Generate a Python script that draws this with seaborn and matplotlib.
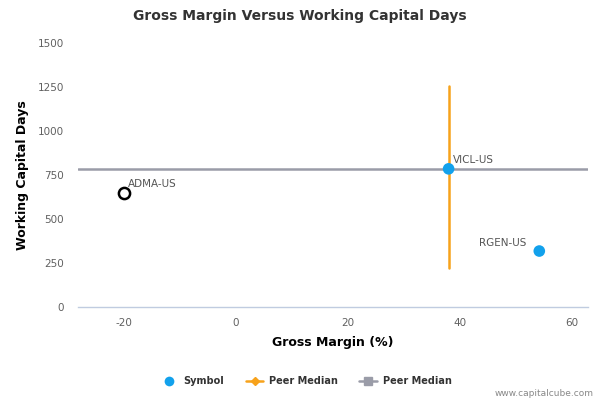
import matplotlib
matplotlib.use("Agg")
import matplotlib.pyplot as plt
from matplotlib.lines import Line2D
import seaborn as sns
import pandas as pd

# data
symbols = ["ADMA-US", "VICL-US", "RGEN-US"]
gross_margin = [-20.0, 38.0, 54.2]
wc_days = [645, 785, 318]
hollow = [True, False, False]

peer_median_x = 38.0
peer_median_y = 785
peer_x_range = [220, 1255]

x_ticks = [-20, 0, 20, 40, 60]
y_ticks = [0, 250, 500, 750, 1000, 1250, 1500]

BLUE = "#12a1ec"
ORANGE = "#f7a21b"
GREY = "#9a9ca8"

df = pd.DataFrame({"symbol": symbols, "gm": gross_margin, "wcd": wc_days, "hollow": hollow})

sns.set_theme(style="white")
plt.rcParams["font.family"] = ["DejaVu Sans"]
plt.rcParams["axes.unicode_minus"] = False

fig = plt.figure(figsize=(6, 4), dpi=100)
ax = fig.add_axes([0.13, 0.2325, 0.85, 0.66])

ax.set_xlim(-28.2, 62.9)
ax.set_ylim(0, 1500)

# peer median lines
ax.axhline(peer_median_y, color=GREY, lw=1.8, zorder=1)
ax.plot([peer_median_x, peer_median_x], peer_x_range, color=ORANGE, lw=1.8, zorder=2)

filled = df[~df["hollow"]]
empty = df[df["hollow"]]
sns.scatterplot(data=filled, x="gm", y="wcd", color=BLUE, s=70, edgecolor="none",
                ax=ax, zorder=3, legend=False)
sns.scatterplot(data=empty, x="gm", y="wcd", facecolor="white", edgecolor="black",
                linewidth=1.8, s=65, ax=ax, zorder=3, legend=False)

for _, r in df.iterrows():
    if r["symbol"] == "RGEN-US":
        ax.annotate(r["symbol"], (r["gm"], r["wcd"]), xytext=(-9, 2), textcoords="offset points",
                    ha="right", va="bottom", fontsize=7.5, color="#555555")
    else:
        ax.annotate(r["symbol"], (r["gm"], r["wcd"]), xytext=(3, 3), textcoords="offset points",
                    ha="left", va="bottom", fontsize=7.5, color="#555555")

ax.set_xticks(x_ticks)
ax.set_yticks(y_ticks)
ax.tick_params(axis="both", labelsize=7.5, colors="#606060")
ax.tick_params(axis="x", length=5, width=1, color="#c0cce0", pad=3)
ax.tick_params(axis="y", length=0, pad=10)

for side in ["top", "right", "left"]:
    ax.spines[side].set_visible(False)
ax.spines["bottom"].set_color("#c0cce0")
ax.spines["bottom"].set_linewidth(1)

ax.set_xlabel("Gross Margin (%)", fontsize=9, fontweight="bold", color="black", labelpad=6)
ax.set_ylabel("Working Capital Days", fontsize=9, fontweight="bold", color="black", labelpad=6)

fig.text(0.5, 0.96, "Gross Margin Versus Working Capital Days", ha="center", va="center",
         fontsize=10, fontweight="bold", color="#333333")

handles = [
    Line2D([], [], marker="o", color="none", markerfacecolor=BLUE, markeredgecolor="none", markersize=7),
    Line2D([], [], marker="D", color=ORANGE, markerfacecolor=ORANGE, markersize=4, lw=1.8),
    Line2D([], [], marker="s", color=GREY, markerfacecolor=GREY, markersize=6, lw=1.8),
]
fig.legend(handles, ["Symbol", "Peer Median", "Peer Median"], loc="center", ncol=3,
           bbox_to_anchor=(0.51, 0.047), frameon=False, prop={"size": 7, "weight": "bold"},
           labelcolor="#333333", handlelength=1.8, columnspacing=2.2, handletextpad=0.6)

fig.text(0.99, 0.017, "www.capitalcube.com", ha="right", va="center", fontsize=6.5, color="#888888")

fig.savefig("out.png", dpi=100)
